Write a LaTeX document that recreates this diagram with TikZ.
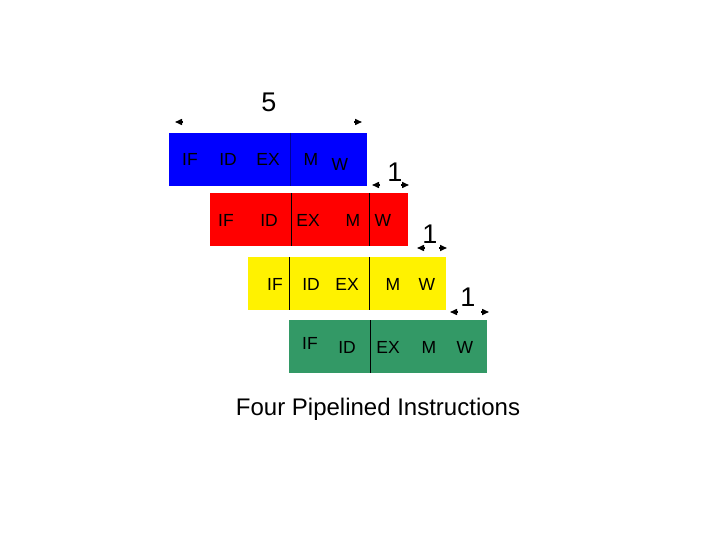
\documentclass[tikz,border=0pt]{standalone}
\usepackage{fontspec}
\setmainfont{Liberation Sans}
\usetikzlibrary{arrows.meta,positioning}
\definecolor{instrgreen}{RGB}{51,153,102}
\tikzstyle{instr}=[anchor=north west,minimum width=198pt,minimum height=53pt,inner sep=0pt]
\tikzstyle{stage}=[font=\fontsize{17.5}{17.5}\selectfont,inner sep=0pt]
\tikzstyle{count}=[font=\fontsize{27}{27}\selectfont,inner sep=0pt]
\tikzstyle{gap}=[-{Triangle[length=7pt,width=6pt]},line width=1.5pt]

\begin{document}
\begin{tikzpicture}[x=1pt,y=-1pt]
\useasboundingbox (0,0) rectangle (720,540);
% instruction bars
\node [instr,fill=blue] (i1) at (169,133) {};
\node [instr,fill=red] (i2) at (210,193) {};
\node [instr,fill=yellow] (i3) at (248,257) {};
\node [instr,fill=instrgreen] (i4) at (289,320) {};
% dividers
\draw [blue!60!black,thin] (i1.north west) ++(121,0) coordinate (d1a) -- (d1a |- i1.south);
\draw [thin] (i2.north west) ++(81,0) coordinate (d2a) -- (d2a |- i2.south);
\draw [thin] (i2.north west) ++(159,0) coordinate (d2b) -- (d2b |- i2.south);
\draw [thin] (i3.north west) ++(41,0) coordinate (d3a) -- (d3a |- i3.south);
\draw [thin] (i3.north west) ++(121,0) coordinate (d3b) -- (d3b |- i3.south);
\draw [thin] (i4.north west) ++(81,0) coordinate (d4a) -- (d4a |- i4.south);
% stage labels
\node [stage] (if1) at (190,159) {IF};
\node [stage] (id1) at (228,159) {ID};
\node [stage] (ex1) at (268,159) {EX};
\node [stage] (m1) at (311,159) {M};
\node [stage] (w1) at (340,164) {W};
\node [stage] (if2) at (226,220) {IF};
\node [stage] (id2) at (269,220) {ID};
\node [stage] (ex2) at (308,220) {EX};
\node [stage] (m2) at (353,220) {M};
\node [stage] (w2) at (383,220) {W};
\node [stage] (if3) at (275,284) {IF};
\node [stage] (id3) at (311,284) {ID};
\node [stage] (ex3) at (347,284) {EX};
\node [stage] (m3) at (393,284) {M};
\node [stage] (w3) at (427,284) {W};
\node [stage] (if4) at (310,343) {IF};
\node [stage] (id4) at (347,347) {ID};
\node [stage] (ex4) at (388,347) {EX};
\node [stage] (m4) at (429,347) {M};
\node [stage] (w4) at (465,347) {W};
% offsets
\node [count] (n5) at (269,102) {5};
\coordinate (a5l) at (183,122); \coordinate (a5le) at (175,122);
\coordinate (a5r) at (354,122); \coordinate (a5re) at (362,122);
\draw [gap] (a5l) -- (a5le);
\draw [gap] (a5r) -- (a5re);
\node [count] (n1a) at (395,172) {1};
\coordinate (b1l) at (380,185); \coordinate (b1le) at (372,185);
\coordinate (b1r) at (401,185); \coordinate (b1re) at (409,185);
\draw [gap] (b1l) -- (b1le);
\draw [gap] (b1r) -- (b1re);
\node [count] (n1b) at (430,234) {1};
\coordinate (c1l) at (425,248); \coordinate (c1le) at (417,248);
\coordinate (c1r) at (439,248); \coordinate (c1re) at (447,248);
\draw [gap] (c1l) -- (c1le);
\draw [gap] (c1r) -- (c1re);
\node [count] (n1c) at (468,297) {1};
\coordinate (e1l) at (458,312); \coordinate (e1le) at (450,312);
\coordinate (e1r) at (481,312); \coordinate (e1re) at (489,312);
\draw [gap] (e1l) -- (e1le);
\draw [gap] (e1r) -- (e1re);
% caption
\node [font=\fontsize{24}{24}\selectfont,inner sep=0pt] (cap) at (378,409) {Four Pipelined Instructions};
\end{tikzpicture}
\end{document}
